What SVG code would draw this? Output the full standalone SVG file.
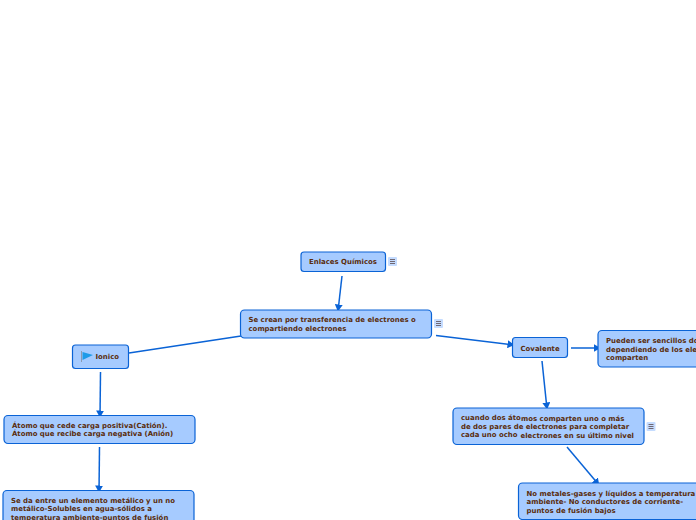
<svg xmlns="http://www.w3.org/2000/svg" width="696" height="520" viewBox="0 0 696 520">
<style>
.n{fill:#a6cbff;stroke:#0a63d6;stroke-width:1.2}
.t{font-family:"DejaVu Sans",sans-serif;font-weight:700;font-size:6.95px;fill:#5a2d0c}
.c{fill:none;stroke:#0a63d6;stroke-width:1.5}
.b{fill:#c5dcff}
.l{stroke:#5a4a50;stroke-width:.8}
</style>
<defs>
<marker id="a" markerUnits="userSpaceOnUse" markerWidth="8" markerHeight="8" refX="6.5" refY="4" orient="auto"><path d="M0 0L7 4L0 8Z" fill="#0a63d6"/></marker>
<g id="m"><rect class="b" x="-4.500" y="-4.500" width="9" height="9" rx="1"/><path class="l" d="M-2.500-2H2.500M-2.500 0H2.500M-2.500 2H2.500"/></g>
</defs>
<g id="connectors">
<path class="c" d="M342 276L338 311" marker-end="url(#a)"/>
<path class="c" d="M241 336L129 353"/>
<path class="c" d="M436 335.500L514 345" marker-end="url(#a)"/>
<path class="c" d="M100.500 372L100 417" marker-end="url(#a)"/>
<path class="c" d="M99.500 447L99 492" marker-end="url(#a)"/>
<path class="c" d="M571 348H600" marker-end="url(#a)"/>
<path class="c" d="M542 361L547 409" marker-end="url(#a)"/>
<path class="c" d="M567 447L599 485" marker-end="url(#a)"/>
</g>
<g id="n1"><rect class="n" x="301" y="252" width="84.500" height="19.500" rx="3"/><text class="t" x="309" y="264">Enlaces Químicos</text><use href="#m" x="392.500" y="261.500"/></g>
<g id="n2"><rect class="n" x="240.500" y="310" width="191" height="28" rx="4"/><text class="t" x="248.500" y="322">Se crean por transferencia de electrones o</text><text class="t" x="248.500" y="331">compartiendo electrones</text><use href="#m" x="438.500" y="323.500"/></g>
<g id="n3"><rect class="n" x="72.500" y="345" width="56" height="23.500" rx="3"/><path d="M81.500 351V362" stroke="#8a9ab0" stroke-width="1"/><path d="M82.500 352L93 355L82.500 360Z" fill="#1e9be8"/><text class="t" x="95.500" y="359">Ionico</text></g>
<g id="n4"><rect class="n" x="4" y="415.500" width="191" height="28" rx="4"/><text class="t" x="12" y="428">Átomo que cede carga positiva(Catión).</text><text class="t" x="12" y="436">Átomo que recibe carga negativa (Anión)</text></g>
<g id="n5"><rect class="n" x="3" y="490.500" width="191" height="40" rx="4"/><text class="t" x="11" y="503">Se da entre un elemento metálico y un no</text><text class="t" x="11" y="511">metálico-Solubles en agua-sólidos a</text><text class="t" x="11" y="519.500">temperatura ambiente-puntos de fusión</text></g>
<g id="n6"><rect class="n" x="512.500" y="337.500" width="55" height="20" rx="3"/><text class="t" x="520.500" y="351">Covalente</text></g>
<g id="n7"><rect class="n" x="598" y="330.500" width="110" height="36.500" rx="4"/><text class="t" x="606" y="343">Pueden ser sencillos do</text><text class="t" x="606" y="352">dependiendo de los ele</text><text class="t" x="606" y="360">comparten</text></g>
<g id="n8"><rect class="n" x="453" y="408" width="191" height="36.500" rx="4"/><text class="t" x="461" y="420">cuando dos áto</text><text class="t" x="521" y="421">mos comparten uno o más</text><text class="t" x="461" y="429">de dos pares de electrones para completar</text><text class="t" x="461" y="437">cada uno ocho</text><text class="t" x="520.500" y="438">electrones en su último nivel</text><use href="#m" x="651" y="426.500"/></g>
<g id="n9"><rect class="n" x="518.500" y="483" width="191" height="36.500" rx="4"/><text class="t" x="526.500" y="496">No metales-gases y líquidos a temperatura</text><text class="t" x="526.500" y="504">ambiente- No conductores de corriente-</text><text class="t" x="526.500" y="513">puntos de fusión bajos</text></g>
</svg>
